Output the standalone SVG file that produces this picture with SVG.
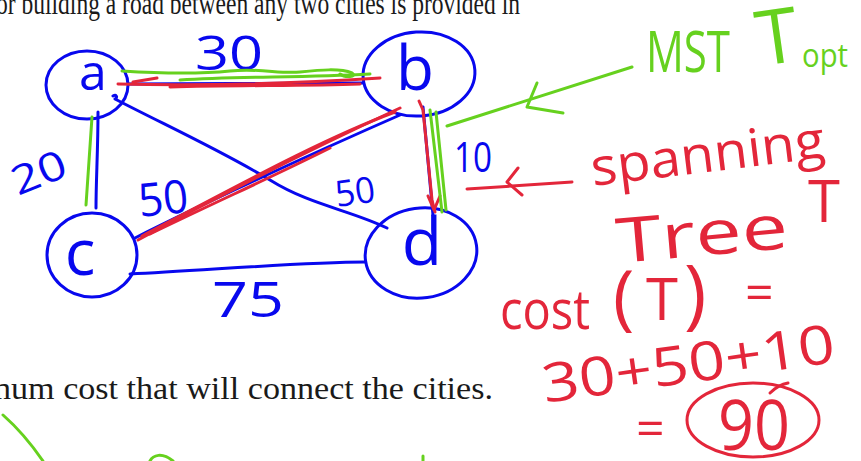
<svg xmlns="http://www.w3.org/2000/svg" width="861" height="461" viewBox="0 0 861 461">
<style>
.bl{stroke:#0808ee;fill:none;stroke-width:3;stroke-linecap:round;stroke-linejoin:round}
.rd{stroke:#e3263a;fill:none;stroke-width:3;stroke-linecap:round;stroke-linejoin:round}
.gr{stroke:#66d11e;fill:none;stroke-width:3;stroke-linecap:round;stroke-linejoin:round}
.tb{fill:#0808ee;font-family:'Open Sans','DejaVu Sans',sans-serif}
.tr{fill:#e3263a;font-family:'Open Sans','DejaVu Sans',sans-serif}
.tg{fill:#66d11e;font-family:'Open Sans','DejaVu Sans',sans-serif}
.pr{fill:#1a1a1a;font-family:'Liberation Serif','Times New Roman',serif}
</style>
<rect width="861" height="461" fill="#ffffff"/>
<!-- printed text -->
<text class="pr" x="-4" y="14" font-size="31" textLength="524" lengthAdjust="spacingAndGlyphs">or building a road between any two cities is provided in</text>
<text class="pr" x="-6" y="399" font-size="32" textLength="499" lengthAdjust="spacingAndGlyphs">num cost that will connect the cities.</text>

<!-- connectors -->
<g id="connectors">
  <path class="bl" d="M128,84 C200,84 300,83 363,83"/>
  <path class="bl" d="M98,112 C98,150 96,180 96,208"/>
  <path class="bl" d="M113,96 C116,94 118,97 115,99 C165,125 220,150 270,180 C310,205 350,210 387,228"/>
  <path class="bl" d="M135,238 C200,205 320,150 400,115"/>
  <path class="bl" d="M130,274 C200,271 300,262 365,262"/>
  <path class="bl" d="M423,107 L433,215"/>
</g>

<!-- edge weights -->
<g id="weights">
  <text class="tb" x="195" y="70" font-size="48" textLength="68" lengthAdjust="spacingAndGlyphs">30</text>
  <text class="tb" font-size="40" textLength="56" lengthAdjust="spacingAndGlyphs" transform="translate(18,196) rotate(-22)">20</text>
  <text class="tb" font-size="46" textLength="50" lengthAdjust="spacingAndGlyphs" transform="translate(140,217) rotate(-6)">50</text>
  <text class="tb" font-size="36" textLength="40" lengthAdjust="spacingAndGlyphs" transform="translate(337,207) rotate(-8)">50</text>
  <text class="tb" x="454" y="172" font-size="42" textLength="38" lengthAdjust="spacingAndGlyphs">10</text>
  <text class="tb" x="212" y="317" font-size="50" textLength="72" lengthAdjust="spacingAndGlyphs">75</text>
</g>

<!-- nodes -->
<g id="node-a">
  <ellipse class="bl" cx="87" cy="85" rx="41" ry="34"/>
  <text class="tb" x="93" y="90" font-size="50" text-anchor="middle">a</text>
</g>
<g id="node-b">
  <ellipse class="bl" cx="419" cy="74" rx="56" ry="42" transform="rotate(-4 419 74)"/>
  <text class="tb" x="415" y="90" font-size="62" text-anchor="middle">b</text>
</g>
<g id="node-c">
  <ellipse class="bl" cx="92" cy="255" rx="45" ry="42"/>
  <text class="tb" x="80" y="275" font-size="64" text-anchor="middle">c</text>
</g>
<g id="node-d">
  <ellipse class="bl" cx="421" cy="253" rx="56" ry="45" transform="rotate(-8 421 253)"/>
  <text class="tb" x="422" y="265" font-size="66" text-anchor="middle">d</text>
</g>

<!-- red spanning tree strokes -->
<g id="red-strokes">
  <path class="rd" d="M118,84 C200,86 300,83 380,78"/>
  <path class="rd" d="M133,82 L157,78"/>
  <path class="rd" d="M170,87 C240,85 300,86 360,84"/>
  <path class="rd" d="M138,240 C220,195 320,145 400,108"/>
  <path class="rd" d="M142,236 C230,190 320,140 395,112"/>
  <path class="rd" d="M150,234 C220,200 270,178 330,148"/>
  <path class="rd" d="M419,101 L423,110 L432,200 L435,212"/>
  <path class="rd" d="M428,196 L434,210 L440,196"/>
  <path class="rd" d="M572,182 L467,189"/>
  <path class="rd" d="M518,168 L507,182 L522,195"/>
  <ellipse class="rd" cx="753" cy="420" rx="66" ry="37"/>
  <path class="rd" d="M770,393 C775,388 782,384 788,383"/>
</g>

<!-- green MST strokes -->
<g id="green-strokes">
  <path class="gr" d="M122,71 C170,74 200,74 230,71 C260,68 280,74 300,72 C320,70 340,68 352,73 C358,77 345,78 340,74"/>
  <path class="gr" d="M180,80 C240,76 300,78 370,74"/>
  <path class="gr" d="M92,117 L86,205" stroke-width="5"/>
  <path class="gr" d="M430,110 L442,212" stroke-width="4"/>
  <path class="gr" d="M436,112 L446,210" stroke-width="4"/>
  <path class="gr" d="M632,67 L447,126"/>
  <path class="gr" d="M537,83 L527,107 L563,113"/>
  <path class="gr" d="M3,415 C20,430 32,445 43,461"/>
  <path class="gr" d="M150,461 C153,455 162,452 173,461"/>
  <path class="gr" d="M423,456 L423,461"/>
</g>

<!-- green annotations -->
<text class="tg" x="646" y="72" font-size="56" textLength="84" lengthAdjust="spacingAndGlyphs">MST</text>
<text class="tg" font-size="76" transform="translate(760,66) rotate(-8)">T</text>
<text class="tg" x="802" y="67" font-size="32" textLength="46" lengthAdjust="spacingAndGlyphs">opt</text>

<!-- red annotations -->
<text class="tr" font-size="52" textLength="235" lengthAdjust="spacingAndGlyphs" transform="translate(593,186) rotate(-7)">spanning</text>
<text class="tr" x="808" y="222" font-size="58">T</text>
<text class="tr" font-size="62" textLength="172" lengthAdjust="spacingAndGlyphs" transform="translate(618,263) rotate(-5)">Tree</text>
<text class="tr" x="500" y="329" font-size="55" textLength="90" lengthAdjust="spacingAndGlyphs">cost</text>
<text class="tr" x="613" y="322" font-size="72">(</text>
<text class="tr" x="646" y="320" font-size="58">T</text>
<text class="tr" x="684" y="320" font-size="76">)</text>
<text class="tr" x="745" y="310" font-size="50">=</text>
<text class="tr" font-size="54" textLength="295" lengthAdjust="spacingAndGlyphs" transform="translate(545,403) rotate(-8)">30+50+10</text>
<text class="tr" x="636" y="446" font-size="50">=</text>
<text class="tr" x="718" y="450" font-size="70" textLength="72" lengthAdjust="spacingAndGlyphs">90</text>
</svg>
